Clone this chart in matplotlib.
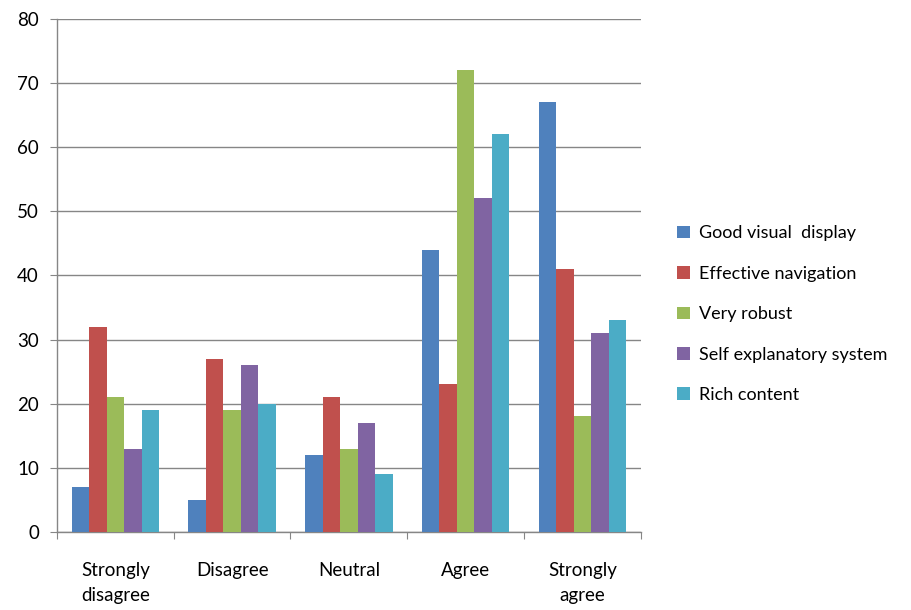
import numpy as np
import matplotlib.pyplot as plt
from matplotlib.patches import Patch

categories = ['Strongly\ndisagree', 'Disagree', 'Neutral', 'Agree', 'Strongly\nagree']
series_names = ['Good visual  display', 'Effective navigation', 'Very robust',
                'Self explanatory system', 'Rich content']
good_visual = [7, 5, 12, 44, 67]
effective_nav = [32, 27, 21, 23, 41]
very_robust = [21, 19, 13, 72, 18]
self_explanatory = [13, 26, 17, 52, 31]
rich_content = [19, 20, 9, 62, 33]
series_values = [good_visual, effective_nav, very_robust, self_explanatory, rich_content]
colors = ['#4F81BD', '#C0504D', '#9BBB59', '#8064A2', '#4BACC6']

plt.rcParams['font.family'] = ['Lato', 'DejaVu Sans']

fig = plt.figure(figsize=(9.12, 6.10), dpi=100)
ax = fig.add_axes([0.0625, 0.128, 0.64, 0.841])

x = np.arange(len(categories))
width = 0.15
for i, (vals, col) in enumerate(zip(series_values, colors)):
    ax.bar(x + (i - 2) * width, vals, width, color=col, zorder=3)

ax.set_xlim(-0.5, len(categories) - 0.5)
ax.set_ylim(0, 80)
ax.set_yticks(range(0, 81, 10))
ax.yaxis.grid(True, color='#868686', linewidth=1.0, zorder=0)

for side in ['top', 'right']:
    ax.spines[side].set_visible(False)
for side in ['left', 'bottom']:
    ax.spines[side].set_color('#868686')
    ax.spines[side].set_linewidth(1.0)

# category ticks sit on the group boundaries, labels at the centres
ax.set_xticks(np.arange(-0.5, len(categories), 1.0))
ax.set_xticklabels([])
ax.set_xticks(x, minor=True)
ax.set_xticklabels(categories, minor=True, fontsize=13.5, linespacing=1.55)
ax.tick_params(axis='x', which='major', length=5, color='#868686')
ax.tick_params(axis='x', which='minor', length=0, pad=22)
ax.tick_params(axis='y', length=5, color='#868686', labelsize=13.5, pad=8)

handles = [Patch(facecolor=c) for c in colors]
fig.legend(handles, series_names, loc='center left', bbox_to_anchor=(0.725, 0.485),
           frameon=False, fontsize=13, handlelength=0.7, handleheight=0.7,
           handletextpad=0.5, labelspacing=1.35)

plt.savefig('out.png', dpi=100)
plt.close()
